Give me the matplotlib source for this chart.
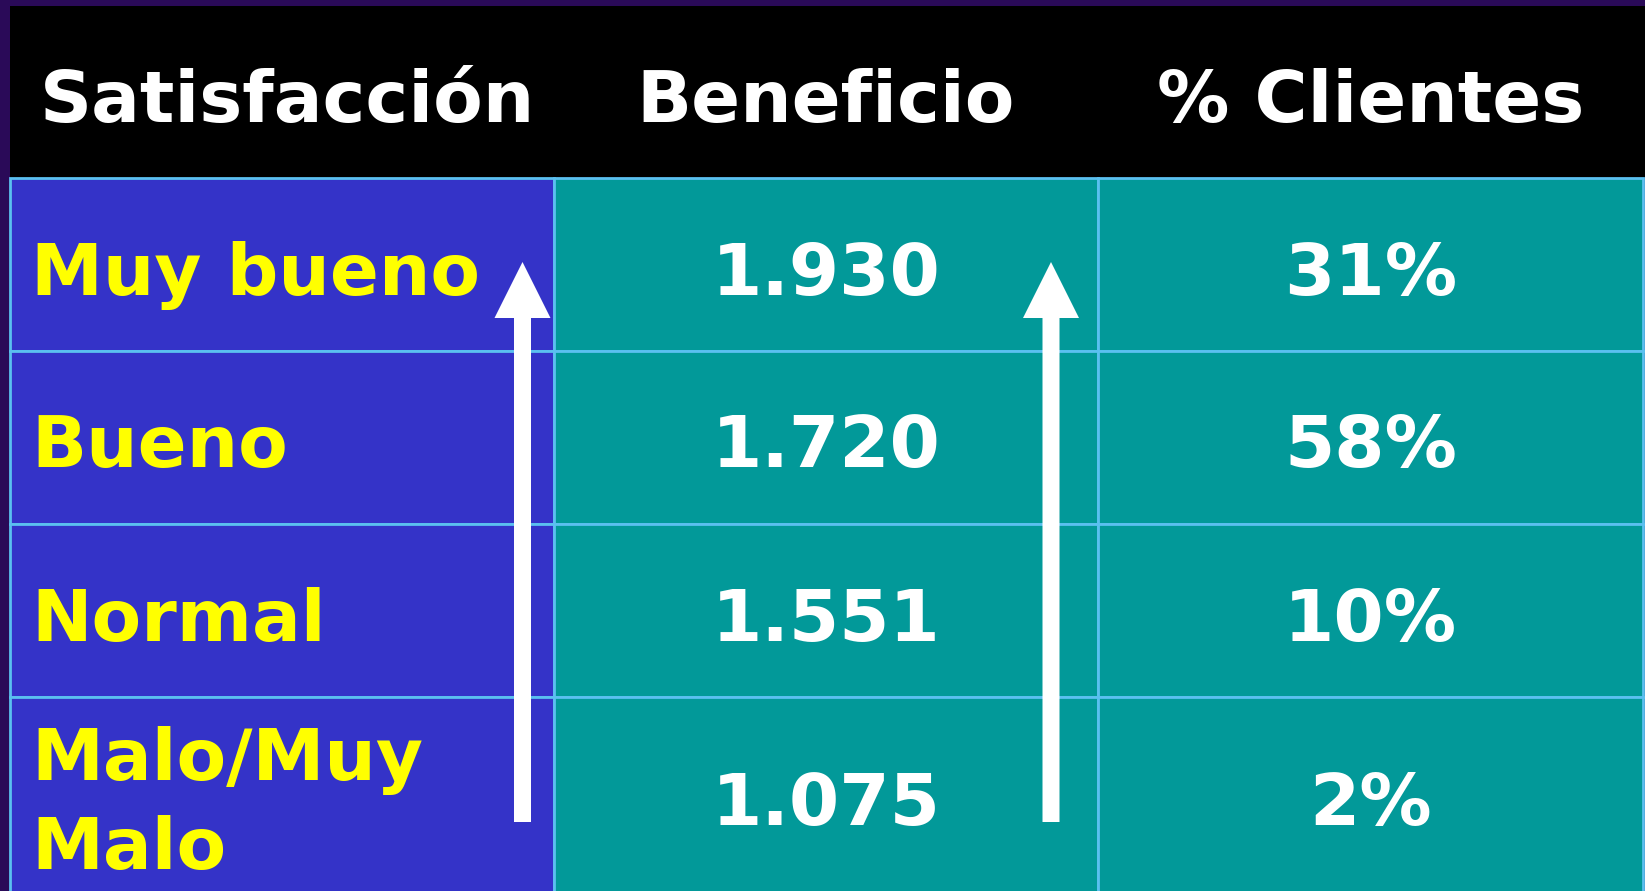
import matplotlib.pyplot as plt
from matplotlib.patches import Rectangle

plt.rcParams['font.family'] = 'DejaVu Sans'

# table content
headers = ['Satisfacción', 'Beneficio', '% Clientes']
niveles = ['Muy bueno', 'Bueno', 'Normal', 'Malo/Muy\nMalo']
beneficio = ['1.930', '1.720', '1.551', '1.075']
clientes = ['31%', '58%', '10%', '2%']

# layout in pixels (figure is 1645x891)
W, H = 1645, 891
col_x = [10, 554, 1098, 1643]
head_top, head_bot = 6, 178
row_h = [173, 173, 173, 206]

purple = '#2a0a58'
blue = '#3433c8'
teal = '#029999'
line = '#5bc0f0'
yellow = '#ffff00'
fs = 52

fig = plt.figure(figsize=(W / 100, H / 100), dpi=100, facecolor=purple)
ax = fig.add_axes([0, 0, 1, 1])
ax.set_xlim(0, W)
ax.set_ylim(H, 0)
ax.axis('off')

# header band
ax.add_patch(Rectangle((col_x[0], head_top), W - col_x[0], head_bot - head_top,
                       facecolor='black', edgecolor='none'))
for j, h in enumerate(headers):
    if j == 0:
        ax.text(40, 122, h, color='white', fontsize=fs, fontweight='bold',
                ha='left', va='baseline')
    else:
        ax.text((col_x[j] + col_x[j + 1]) / 2, 122, h, color='white', fontsize=fs,
                fontweight='bold', ha='center', va='baseline')

# body rows
top = head_bot
for i in range(len(niveles)):
    for j in range(3):
        fc = blue if j == 0 else teal
        ax.add_patch(Rectangle((col_x[j], top), col_x[j + 1] - col_x[j], row_h[i],
                               facecolor=fc, edgecolor=line, linewidth=2.0))
    mid = top + row_h[i] / 2
    lines = niveles[i].split('\n')
    if len(lines) == 1:
        ax.text(31, mid + 30, lines[0], color=yellow, fontsize=fs, fontweight='bold',
                ha='left', va='baseline')
    else:
        for k, s in enumerate(lines):
            ax.text(31, mid - 20 + 89 * k, s, color=yellow, fontsize=fs,
                    fontweight='bold', ha='left', va='baseline')
    base = mid + 30 if len(lines) == 1 else mid + 25
    ax.text((col_x[1] + col_x[2]) / 2, base, beneficio[i], color='white', fontsize=fs,
            fontweight='bold', ha='center', va='baseline')
    ax.text((col_x[2] + col_x[3]) / 2, base, clientes[i], color='white', fontsize=fs,
            fontweight='bold', ha='center', va='baseline')
    top += row_h[i]

# upward arrows
for xc in [522.5, 1051]:
    ax.arrow(xc, 822, 0, 262 - 822, width=17, head_width=56, head_length=56,
             length_includes_head=True, facecolor='white', edgecolor='none', zorder=5)

fig.savefig('out.png', dpi=100, facecolor=purple)
